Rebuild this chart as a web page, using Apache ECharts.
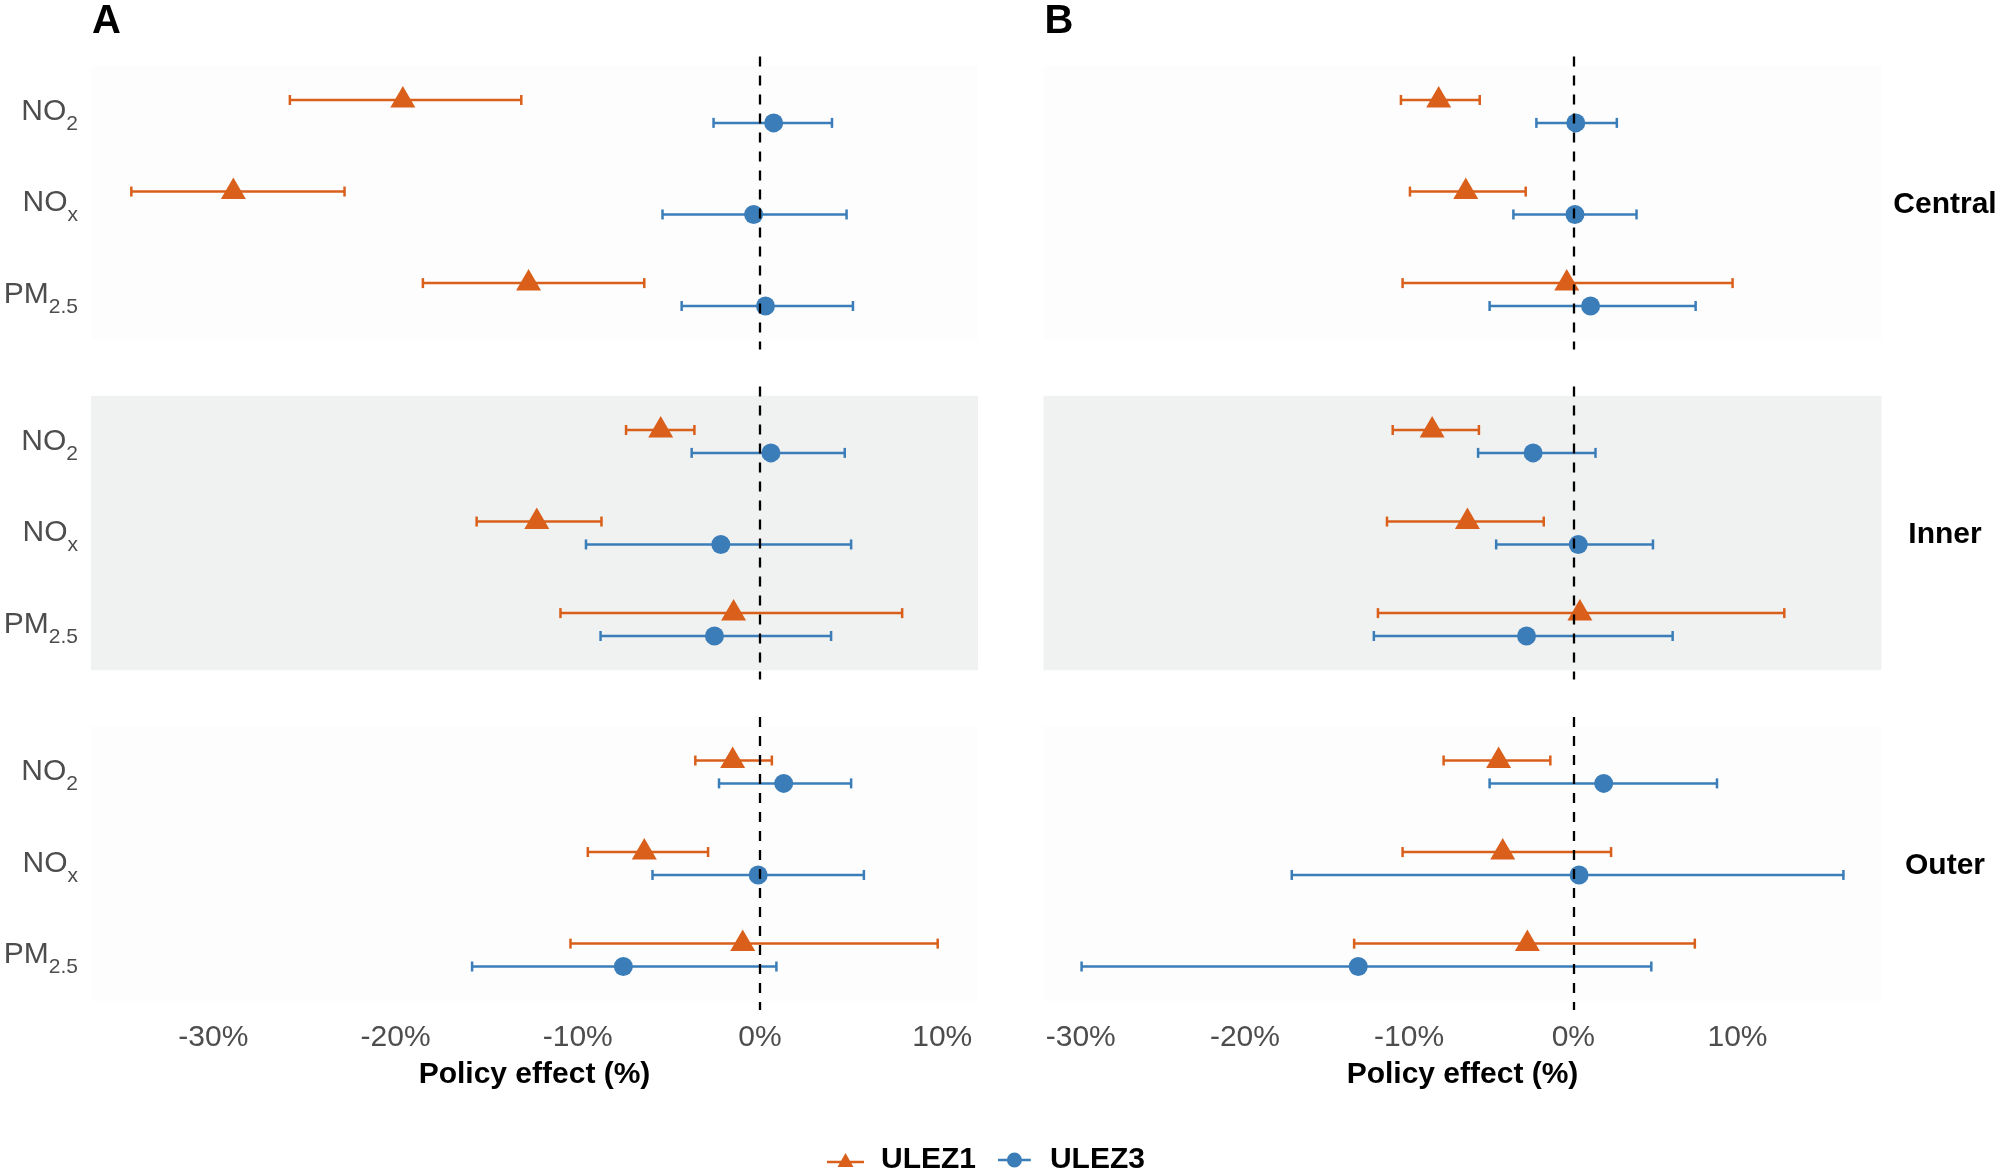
<!DOCTYPE html>
<html><head><meta charset="utf-8">
<script src="https://cdn.jsdelivr.net/npm/echarts@6/dist/echarts.min.js"></script>
<style>html,body{margin:0;padding:0;background:#fff}#c{width:2000px;height:1173px}</style>
</head><body><div id="c"></div>
<script>
// ---------------- DATA ----------------
const pollutantMain = ['NO', 'NO', 'PM'];
const pollutantSub = ['2', 'x', '2.5'];
const zones = ['Central', 'Inner', 'Outer'];
const panelLetters = ['A', 'B'];
const seriesNames = ['ULEZ1', 'ULEZ3'];
const xTickValues = [-30, -20, -10, 0, 10];

// Order: Central [NO2, NOx, PM2.5], Inner [..], Outer [..]
// Panel A
const a_ulez1_est = [-19.6, -28.9, -12.7,   -5.45, -12.25, -1.45,   -1.5, -6.35, -0.95];
const a_ulez1_lo  = [-25.8, -34.5, -18.5,   -7.35, -15.55, -10.95,  -3.55, -9.45, -10.4];
const a_ulez1_hi  = [-13.1, -22.8, -6.35,   -3.6,  -8.7,   7.8,     0.65, -2.85, 9.75];
const a_ulez3_est = [0.75, -0.35, 0.3,      0.6, -2.15, -2.5,       1.3, -0.1, -7.5];
const a_ulez3_lo  = [-2.55, -5.35, -4.3,    -3.75, -9.55, -8.75,    -2.25, -5.9, -15.8];
const a_ulez3_hi  = [3.95, 4.75, 5.1,       4.65, 5.0, 3.9,         5.0, 5.7, 0.9];
// Panel B
const b_ulez1_est = [-8.2, -6.55, -0.4,     -8.6, -6.45, 0.4,       -4.55, -4.3, -2.8];
const b_ulez1_lo  = [-10.5, -9.95, -10.4,   -11.0, -11.35, -11.9,   -7.9, -10.4, -13.35];
const b_ulez1_hi  = [-5.7, -2.9, 9.7,       -5.75, -1.8, 12.85,     -1.4, 2.3, 7.4];
const b_ulez3_est = [0.15, 0.1, 1.05,       -2.45, 0.3, -2.85,      1.85, 0.35, -13.1];
const b_ulez3_lo  = [-2.25, -3.65, -5.1,    -5.8, -4.7, -12.15,     -5.1, -17.15, -29.95];
const b_ulez3_hi  = [2.65, 3.85, 7.45,      1.35, 4.85, 6.05,       8.75, 16.45, 4.75];

// ---------------- STYLE / LAYOUT ----------------
const FONT = 'Liberation Sans, Arial, Helvetica, sans-serif';
const COLORS = ['#D95F1A', '#3A7DB9'];
const ZONE_BG = ['#FDFDFD', '#F0F1F1', '#FDFDFD'];
const colLeft = [91, 1043.5];
const colWidth = [887, 838];
const rowTop = [56.5, 386.5, 717];
const rowHeight = 293;
const DODGE = 0.125;

const panelData = [
  [[a_ulez1_est, a_ulez1_lo, a_ulez1_hi], [a_ulez3_est, a_ulez3_lo, a_ulez3_hi]],
  [[b_ulez1_est, b_ulez1_lo, b_ulez1_hi], [b_ulez3_est, b_ulez3_lo, b_ulez3_hi]]
];

function xRange(p) {
  const all = [];
  panelData[p].forEach(s => { all.push(...s[1], ...s[2]); });
  const mn = Math.min(...all), mx = Math.max(...all);
  const pad = (mx - mn) * 0.05;
  return [mn - pad, mx + pad];
}

function makeRender(shape) {
  return function (params, api) {
    const y = api.value(3);
    const p = api.coord([api.value(0), y]);
    const l = api.coord([api.value(1), y]);
    const h = api.coord([api.value(2), y]);
    const color = api.visual('color');
    const cap = 5;
    const lw = 2.5;
    const children = [
      { type: 'line', shape: { x1: l[0], y1: l[1], x2: h[0], y2: h[1] }, style: { stroke: color, lineWidth: lw } },
      { type: 'line', shape: { x1: l[0], y1: l[1] - cap, x2: l[0], y2: l[1] + cap }, style: { stroke: color, lineWidth: lw } },
      { type: 'line', shape: { x1: h[0], y1: h[1] - cap, x2: h[0], y2: h[1] + cap }, style: { stroke: color, lineWidth: lw } }
    ];
    if (shape === 'triangle') {
      children.push({ type: 'polygon', shape: { points: [[p[0], p[1] - 14], [p[0] + 12.5, p[1] + 7.5], [p[0] - 12.5, p[1] + 7.5]] }, style: { fill: color } });
    } else {
      children.push({ type: 'circle', shape: { cx: p[0], cy: p[1], r: 9.5 }, style: { fill: color } });
    }
    return { type: 'group', children };
  };
}

const grids = [], xAxes = [], yAxes = [], series = [];
let gi = 0;
for (let p = 0; p < 2; p++) {
  const rng = xRange(p);
  for (let z = 0; z < 3; z++) {
    grids.push({ left: colLeft[p], top: rowTop[z], width: colWidth[p], height: rowHeight, containLabel: false });
    const bottom = z === 2;
    xAxes.push({
      gridIndex: gi, type: 'value', min: rng[0], max: rng[1],
      axisLine: { show: false }, axisTick: { show: false }, splitLine: { show: false },
      axisLabel: {
        show: bottom, customValues: xTickValues, formatter: v => v + '%',
        fontSize: 30, color: '#4D4D4D', fontFamily: FONT, margin: 13
      },
      name: bottom ? 'Policy effect (%)' : '', nameLocation: 'middle', nameGap: 50,
      nameTextStyle: { fontSize: 30, fontWeight: 'bold', color: '#000', fontFamily: FONT }
    });
    yAxes.push({
      gridIndex: gi, type: 'value', min: 0.4, max: 3.6, inverse: true,
      axisLine: { show: false }, axisTick: { show: false }, splitLine: { show: false },
      axisLabel: {
        show: p === 0, customValues: [1, 2, 3], margin: 13, padding: [16, 0, 0, 0],
        formatter: v => { const i = Math.round(v) - 1; return '{m|' + pollutantMain[i] + '}{s|' + pollutantSub[i] + '}'; },
        rich: {
          m: { fontSize: 30, color: '#4D4D4D', fontFamily: FONT, verticalAlign: 'bottom', lineHeight: 30, padding: [0, 0, 8, 0] },
          s: { fontSize: 21, color: '#4D4D4D', fontFamily: FONT, verticalAlign: 'bottom', lineHeight: 22 }
        }
      }
    });
    for (let s = 0; s < 2; s++) {
      const arr = panelData[p][s];
      const data = [];
      for (let i = 0; i < 3; i++) {
        const k = z * 3 + i;
        data.push([arr[0][k], arr[1][k], arr[2][k], (i + 1) + (s === 0 ? -DODGE : DODGE)]);
      }
      const ser = {
        type: 'custom', name: seriesNames[s], xAxisIndex: gi, yAxisIndex: gi,
        renderItem: makeRender(s === 0 ? 'triangle' : 'circle'),
        encode: { x: [0, 1, 2], y: 3 },
        itemStyle: { color: COLORS[s] },
        data, z: 3, clip: false
      };
      if (s === 0) {
        ser.markArea = { silent: true, z: 1, itemStyle: { color: ZONE_BG[z] }, data: [[{ yAxis: 0.5 }, { yAxis: 3.5 }]] };
        ser.markLine = {
          silent: true, z: 10, symbol: ['none', 'none'], label: { show: false },
          lineStyle: { color: '#000', type: [10, 9], width: 2.3 }, data: [{ xAxis: 0 }]
        };
      }
      series.push(ser);
    }
    gi++;
  }
}

const triIcon = 'path://M0,7.75 L37,7.75 L37,10.25 L0,10.25 Z M18.5,0 L26.5,14 L10.5,14 Z';
const cirIcon = 'path://M0,6.75 L35,6.75 L35,9.25 L0,9.25 Z M9.5,8 A8,8 0 1,1 25.5,8 A8,8 0 1,1 9.5,8 Z';

const graphics = [];
panelLetters.forEach((t, p) => {
  graphics.push({ type: 'text', left: colLeft[p] + 1, top: 2, style: { text: t, font: 'bold 40px ' + FONT, fill: '#000' } });
});
zones.forEach((t, z) => {
  graphics.push({ type: 'text', x: 1945, y: rowTop[z] + rowHeight / 2 + 2, style: { text: t, font: 'bold 30px ' + FONT, fill: '#000', align: 'center', verticalAlign: 'middle' } });
});

const chart = echarts.init(document.getElementById('c'), null, { renderer: 'canvas' });
chart.setOption({
  animation: false,
  backgroundColor: '#fff',
  textStyle: { fontFamily: FONT },
  grid: grids, xAxis: xAxes, yAxis: yAxes, series,
  legend: {
    left: 822, top: 1140, itemWidth: 37, itemHeight: 15, itemGap: 22,
    textStyle: { fontSize: 30, fontWeight: 'bold', color: '#000', fontFamily: FONT, padding: [0, 0, 0, 12] },
    data: [{ name: 'ULEZ1', icon: triIcon }, { name: 'ULEZ3', icon: cirIcon }],
    selectedMode: false
  },
  graphic: graphics
});
</script>
</body></html>
